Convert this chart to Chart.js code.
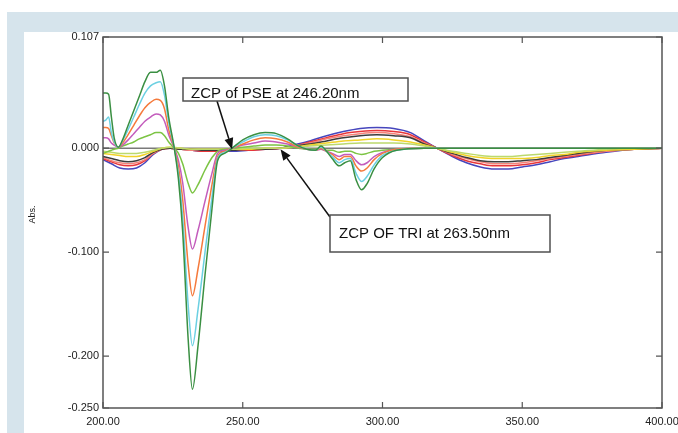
<!DOCTYPE html>
<html>
<head>
<meta charset="utf-8">
<script src="https://cdn.jsdelivr.net/npm/chart.js@4.4.1/dist/chart.umd.min.js"></script>
<style>
  html, body { margin: 0; padding: 0; background: #ffffff; }
  body { width: 678px; height: 433px; position: relative; overflow: hidden; }
  #bandTop { position: absolute; left: 7px; top: 12px; width: 671px; height: 20px; background: #d6e4ec; }
  #bandLeft { position: absolute; left: 7px; top: 12px; width: 17px; height: 421px; background: #d6e4ec; }
  #wrap { position: absolute; left: 0; top: 0; width: 678px; height: 433px; }
</style>
</head>
<body>
<div id="bandTop"></div>
<div id="bandLeft"></div>
<div id="wrap"><canvas id="c" width="678" height="433"></canvas></div>
<script>
// ---- data ----
const xTicks = [200, 250, 300, 350, 400];
const yTicks = [0.107, 0.000, -0.100, -0.200, -0.250];

// wavelengths (nm) for the PSE spectra
const pseNm = [200,201,202,203,204,205.5,207,209,211,213,215,217,219,220.5,222,223.5,225.5,227,228.5,230.5,232,234,236.5,239,241,243.5,246.2,250,254,258,262,266,270,273,276,278,280,282,284.5,286.5,288.5,290.5,292.5,294.5,297,300,305,315,330,350,370,400];
const pseDarkGreen = [0.053,0.053,0.052,0.030,0.010,0.001,0.008,0.022,0.036,0.050,0.064,0.073,0.073,0.075,0.060,0.030,0.000,-0.030,-0.080,-0.185,-0.232,-0.190,-0.122,-0.058,-0.012,-0.005,0.000,0.008,0.013,0.015,0.014,0.009,0.002,-0.001,-0.002,0.002,-0.003,-0.010,-0.017,-0.014,-0.012,-0.030,-0.040,-0.034,-0.020,-0.009,-0.002,0,0,0,0,0];
const pseCyan = [0.026,0.027,0.030,0.015,0.006,0.001,0.007,0.018,0.030,0.042,0.053,0.060,0.063,0.064,0.051,0.025,0.000,-0.025,-0.066,-0.152,-0.190,-0.155,-0.100,-0.047,-0.010,-0.004,0.000,0.006,0.011,0.013,0.012,0.008,0.002,-0.001,-0.002,0.001,-0.003,-0.008,-0.014,-0.011,-0.010,-0.024,-0.032,-0.027,-0.016,-0.007,-0.002,0,0,0,0,0];
const pseOrange = [0.020,0.020,0.019,0.012,0.005,0.001,0.005,0.013,0.022,0.031,0.039,0.044,0.047,0.046,0.038,0.018,0.000,-0.018,-0.049,-0.113,-0.142,-0.116,-0.075,-0.035,-0.008,-0.003,0.000,0.004,0.008,0.010,0.009,0.006,0.001,-0.001,-0.002,0.000,-0.003,-0.006,-0.011,-0.008,-0.008,-0.017,-0.022,-0.019,-0.011,-0.005,-0.001,0,0,0,0,0];
const pseMagenta = [0.010,0.010,0.009,0.005,0.003,0.001,0.003,0.008,0.014,0.020,0.026,0.030,0.033,0.032,0.026,0.013,0.000,-0.012,-0.033,-0.077,-0.097,-0.079,-0.051,-0.024,-0.005,-0.002,0.000,0.003,0.005,0.007,0.006,0.004,0.001,-0.001,-0.002,-0.001,-0.003,-0.005,-0.008,-0.006,-0.006,-0.012,-0.016,-0.014,-0.008,-0.004,-0.001,0,0,0,0,0];
const pseLightGreen = [-0.005,-0.004,-0.003,-0.002,-0.001,0.000,0.002,0.004,0.006,0.009,0.011,0.013,0.015,0.015,0.012,0.006,0.000,-0.005,-0.015,-0.034,-0.043,-0.035,-0.021,-0.009,-0.003,-0.001,0.000,0.001,0.002,0.003,0.003,0.002,0.000,-0.001,-0.001,-0.001,-0.002,-0.002,-0.004,-0.003,-0.003,-0.005,-0.006,-0.005,-0.003,-0.002,-0.001,0,0,0,0,0];

// wavelengths (nm) for the TRI spectra
const triNm = [200,203,206,209,212,215,218,221,224,228,232,236,240,246.2,252,258,263.5,268,274,280,286,292,298,304,310,315,319.5,325,330,335,340,345,350,355,360,365,370,380,390,400];
const triBlue = [-0.011,-0.015,-0.019,-0.020,-0.019,-0.014,-0.006,-0.001,0.000,-0.001,-0.002,-0.003,-0.003,-0.003,-0.002,-0.001,0.000,0.003,0.007,0.012,0.016,0.019,0.020,0.019,0.015,0.007,0.000,-0.008,-0.014,-0.018,-0.020,-0.020,-0.018,-0.016,-0.013,-0.010,-0.008,-0.004,-0.001,0.000];
const triRed = [-0.010,-0.013,-0.016,-0.017,-0.016,-0.012,-0.005,-0.001,0.000,-0.001,-0.002,-0.003,-0.003,-0.002,-0.002,-0.001,0.000,0.002,0.006,0.010,0.014,0.016,0.017,0.016,0.013,0.006,0.000,-0.007,-0.012,-0.015,-0.017,-0.017,-0.016,-0.014,-0.011,-0.009,-0.007,-0.003,-0.001,0.000];
const triSalmon = [-0.009,-0.012,-0.014,-0.015,-0.014,-0.011,-0.005,-0.001,0.000,-0.001,-0.002,-0.002,-0.002,-0.002,-0.001,-0.001,0.000,0.002,0.005,0.009,0.012,0.014,0.015,0.014,0.011,0.005,0.000,-0.006,-0.010,-0.013,-0.015,-0.015,-0.014,-0.012,-0.010,-0.008,-0.006,-0.003,-0.001,0.000];
const triBlack = [-0.008,-0.010,-0.012,-0.013,-0.012,-0.009,-0.004,-0.001,0.000,-0.001,-0.001,-0.002,-0.002,-0.002,-0.001,-0.001,0.000,0.002,0.004,0.007,0.010,0.012,0.013,0.012,0.010,0.004,0.000,-0.005,-0.009,-0.012,-0.013,-0.013,-0.012,-0.011,-0.009,-0.007,-0.005,-0.002,-0.001,0.000];
const triYellow = [-0.005,-0.006,-0.007,-0.008,-0.008,-0.006,-0.003,0.000,0.001,0.000,-0.001,-0.001,-0.001,-0.001,-0.001,0.000,0.000,0.001,0.003,0.005,0.007,0.008,0.009,0.008,0.006,0.003,0.000,-0.004,-0.007,-0.009,-0.010,-0.010,-0.010,-0.009,-0.007,-0.006,-0.004,-0.002,-0.001,0.000];
const triYellowGreen = [-0.003,-0.004,-0.005,-0.005,-0.005,-0.004,-0.002,0.000,0.001,0.000,-0.001,-0.001,-0.001,-0.001,0.000,0.000,0.000,0.001,0.002,0.003,0.004,0.005,0.005,0.005,0.004,0.002,0.000,-0.003,-0.005,-0.007,-0.008,-0.008,-0.007,-0.006,-0.005,-0.004,-0.003,-0.001,0.000,0.000];

const annotations = [
  { text: 'ZCP of PSE at 246.20nm', at: 246.2 },
  { text: 'ZCP OF TRI at 263.50nm', at: 263.5 }
];

// ---- build ----
function pts(xs, ys) { return xs.map((x, i) => ({ x: x, y: ys[i] })); }
function ds(label, xs, ys, color) {
  return { label, data: pts(xs, ys), borderColor: color, backgroundColor: color,
           borderWidth: 1.5, pointRadius: 0, fill: false, cubicInterpolationMode: 'monotone' };
}
const datasets = [
  ds('PSE 1', pseNm, pseDarkGreen, '#3a8f42'),
  ds('PSE 2', pseNm, pseCyan, '#6cd0e2'),
  ds('PSE 3', pseNm, pseOrange, '#f57a3c'),
  ds('PSE 4', pseNm, pseMagenta, '#c35cbc'),
  ds('PSE 5', pseNm, pseLightGreen, '#7cc444'),
  ds('TRI 6', triNm, triYellowGreen, '#bcd96c'),
  ds('TRI 5', triNm, triYellow, '#f0d228'),
  ds('TRI 4', triNm, triBlack, '#3c3c3c'),
  ds('TRI 3', triNm, triSalmon, '#f4837a'),
  ds('TRI 2', triNm, triRed, '#e8363a'),
  ds('TRI 1', triNm, triBlue, '#4646bd')
];

const framePlugin = {
  id: 'frame',
  beforeDatasetsDraw(chart) {
    const { ctx, chartArea: a, scales: { x, y } } = chart;
    ctx.save();
    ctx.strokeStyle = '#7a7a7a';
    ctx.lineWidth = 1.5;
    const y0 = y.getPixelForValue(0);
    ctx.beginPath(); ctx.moveTo(a.left, y0); ctx.lineTo(a.right, y0); ctx.stroke();
    ctx.restore();
  },
  afterDatasetsDraw(chart) {
    const { ctx, chartArea: a, scales: { x, y } } = chart;
    ctx.save();
    ctx.strokeStyle = '#555';
    ctx.lineWidth = 1.5;
    ctx.strokeRect(a.left, a.top, a.right - a.left, a.bottom - a.top);
    ctx.lineWidth = 1.2;
    ctx.beginPath();
    xTicks.forEach(v => {
      const px = x.getPixelForValue(v);
      ctx.moveTo(px, a.bottom); ctx.lineTo(px, a.bottom - 6);
      ctx.moveTo(px, a.top); ctx.lineTo(px, a.top + 6);
    });
    yTicks.forEach(v => {
      const py = y.getPixelForValue(v);
      ctx.moveTo(a.left, py); ctx.lineTo(a.left + 6, py);
      ctx.moveTo(a.right, py); ctx.lineTo(a.right - 6, py);
    });
    ctx.stroke();

    // annotation boxes + arrows
    const boxes = [
      { l: a.left + 80, t: a.top + 41, w: 225, h: 23, tx: 8, ty: 20, from: [a.left + 114, a.top + 64] },
      { l: a.left + 227, t: a.top + 178, w: 220, h: 37, tx: 9, ty: 23, from: [a.left + 227, a.top + 180] }
    ];
    annotations.forEach((an, i) => {
      const b = boxes[i];
      const tipX = x.getPixelForValue(an.at), tipY = y.getPixelForValue(0) + 1;
      const [fx, fy] = b.from;
      const ang = Math.atan2(tipY - fy, tipX - fx);
      const hl = 11, hw = 4.5;
      const bx = tipX - hl * Math.cos(ang), by = tipY - hl * Math.sin(ang);
      ctx.strokeStyle = '#111'; ctx.fillStyle = '#111'; ctx.lineWidth = 1.5;
      ctx.beginPath(); ctx.moveTo(fx, fy); ctx.lineTo(bx, by); ctx.stroke();
      ctx.beginPath();
      ctx.moveTo(tipX, tipY);
      ctx.lineTo(bx + hw * Math.sin(ang), by - hw * Math.cos(ang));
      ctx.lineTo(bx - hw * Math.sin(ang), by + hw * Math.cos(ang));
      ctx.closePath(); ctx.fill();
      ctx.fillStyle = '#fff';
      ctx.fillRect(b.l, b.t, b.w, b.h);
      ctx.strokeStyle = '#505050'; ctx.lineWidth = 1.5;
      ctx.strokeRect(b.l, b.t, b.w, b.h);
      ctx.fillStyle = '#111';
      ctx.font = '15px "Liberation Sans", Arial, sans-serif';
      ctx.textBaseline = 'alphabetic';
      ctx.textAlign = 'left';
      ctx.fillText(an.text, b.l + b.tx, b.t + b.ty);
    });
    ctx.restore();
  },
  afterDraw(chart) {
    const { ctx, chartArea: a, scales: { x } } = chart;
    ctx.save();
    ctx.fillStyle = '#222';
    ctx.font = '9px "Liberation Sans", Arial, sans-serif';
    ctx.translate(33, (a.top + a.bottom) / 2 - 8);
    ctx.rotate(-Math.PI / 2);
    ctx.textAlign = 'center';
    ctx.textBaseline = 'middle';
    ctx.fillText('Abs.', 0, 0);
    ctx.restore();
    ctx.save();
    ctx.fillStyle = '#222';
    ctx.font = '10px "Liberation Sans", Arial, sans-serif';
    ctx.textAlign = 'center';
    ctx.textBaseline = 'top';
    ctx.fillText('nm', x.getPixelForValue(300), a.bottom + 23);
    ctx.restore();
  }
};

new Chart(document.getElementById('c'), {
  type: 'line',
  data: { datasets },
  plugins: [framePlugin],
  options: {
    responsive: false,
    animation: false,
    events: [],
    layout: { padding: { left: 0, top: 37, right: 16, bottom: 0 } },
    plugins: { legend: { display: false }, tooltip: { enabled: false } },
    scales: {
      x: {
        type: 'linear', min: 200, max: 400,
        afterBuildTicks: s => { s.ticks = xTicks.map(v => ({ value: v })); },
        afterFit: s => { s.height = 25; s.paddingLeft = 0; s.paddingRight = 0; },
        grid: { display: false, drawTicks: false },
        border: { display: false },
        ticks: { padding: 7, color: '#222', maxRotation: 0, autoSkip: false,
                 font: { family: '"Liberation Sans", Arial, sans-serif', size: 11 },
                 callback: v => Number(v).toFixed(2) }
      },
      y: {
        type: 'linear', min: -0.25, max: 0.107,
        afterBuildTicks: s => { s.ticks = yTicks.map(v => ({ value: v })); },
        afterFit: s => { s.width = 103; s.paddingTop = 0; s.paddingBottom = 0; },
        grid: { display: false, drawTicks: false },
        border: { display: false },
        ticks: { padding: 4, color: '#222', autoSkip: false,
                 font: { family: '"Liberation Sans", Arial, sans-serif', size: 11 },
                 callback: v => Number(v).toFixed(3) }
      }
    }
  }
});
</script>
</body>
</html>
